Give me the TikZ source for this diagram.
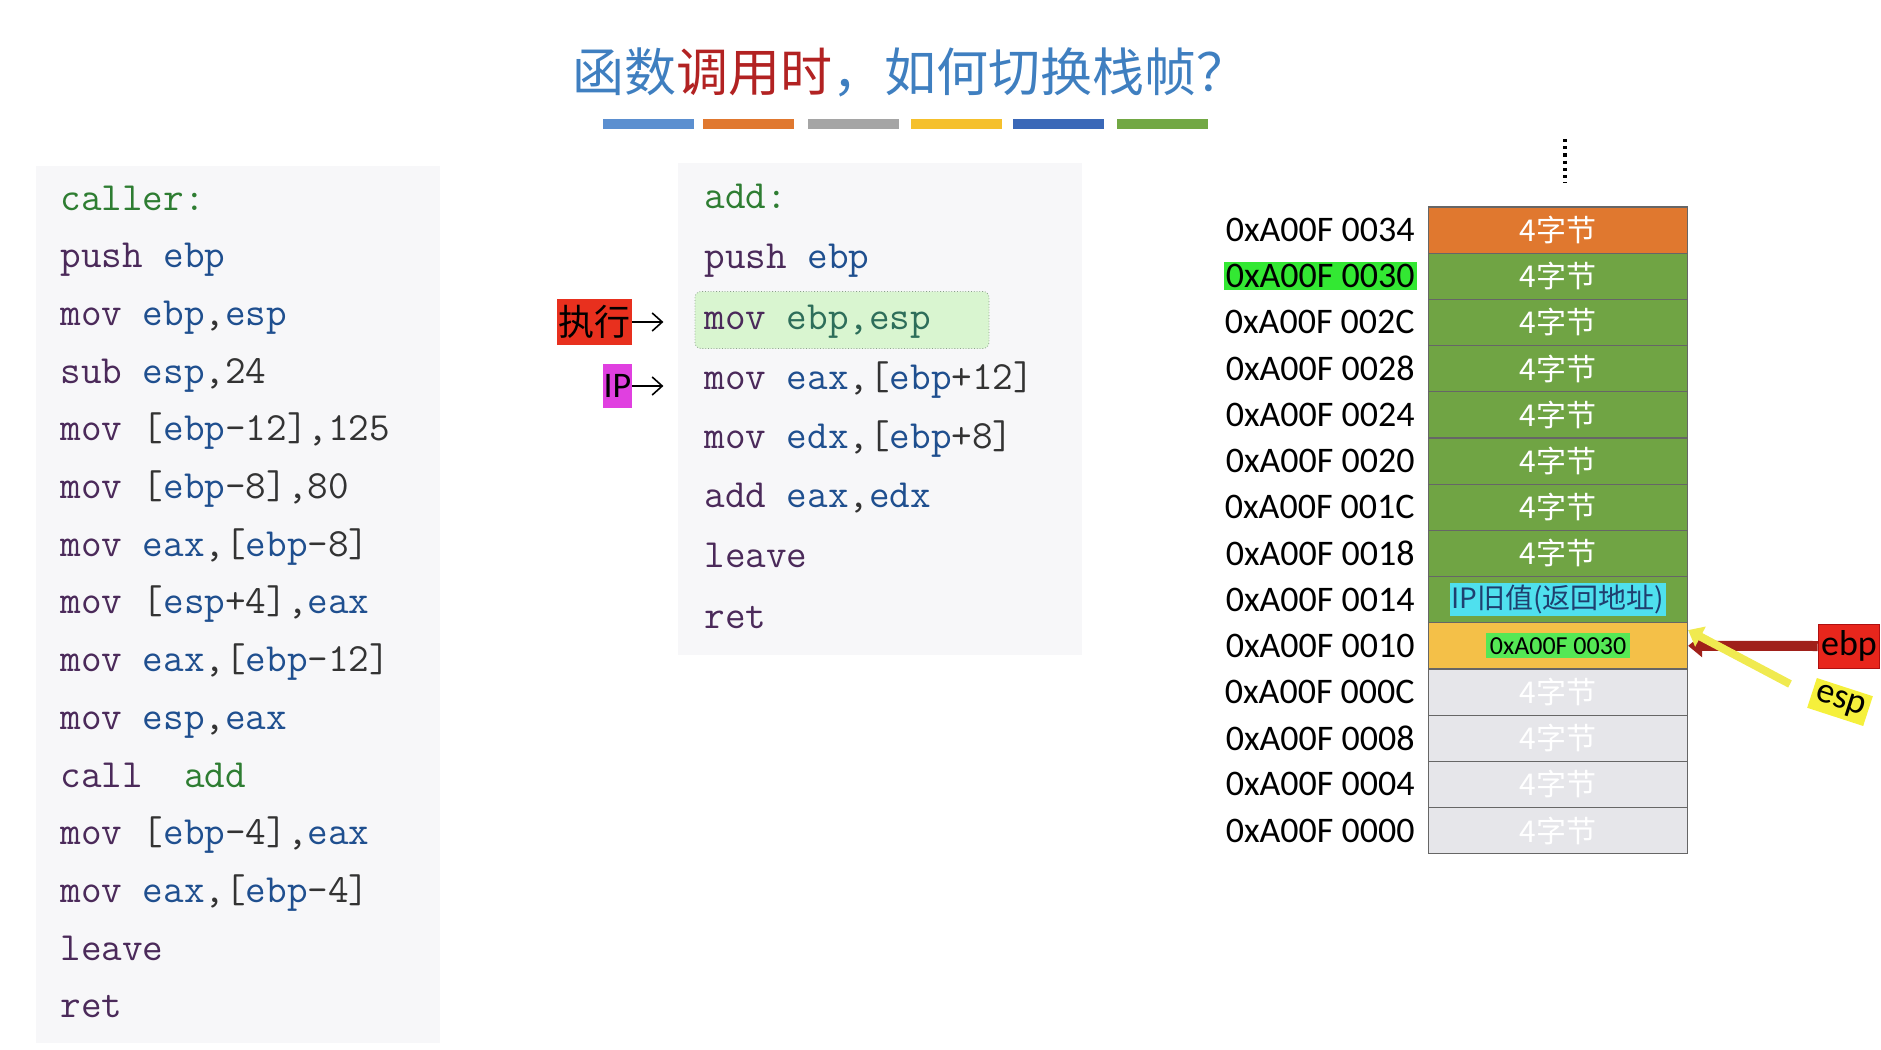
\documentclass[tikz,border=0pt]{standalone}
\usepackage{fontspec}
\newfontfamily\cjk{Noto Sans CJK SC}
\newfontfamily\carl{Carlito}
\usetikzlibrary{arrows.meta}
\definecolor{mnc}{HTML}{4B2A5A}
\definecolor{rgc}{HTML}{1F4F8F}
\definecolor{lbc}{HTML}{2E7D32}
\definecolor{numc}{HTML}{333333}
\definecolor{ttlb}{HTML}{3F7FC0}
\definecolor{ttlr}{HTML}{B22222}
\definecolor{cor}{HTML}{E0782F}
\definecolor{cgr}{HTML}{70A444}
\definecolor{cgo}{HTML}{F4C048}
\definecolor{cgy}{HTML}{E6E6EA}
\definecolor{b1}{HTML}{5B8FD0}
\definecolor{b2}{HTML}{E0782F}
\definecolor{b3}{HTML}{A5A5A5}
\definecolor{b4}{HTML}{F5C02C}
\definecolor{b5}{HTML}{3A68B8}
\definecolor{b6}{HTML}{72A844}
\definecolor{panel}{HTML}{F7F7F9}
\definecolor{hlb}{HTML}{8AA08A}
\definecolor{hlf}{HTML}{D9F5D0}
\definecolor{exef}{HTML}{E8301E}
\definecolor{ipf}{HTML}{E040E0}
\definecolor{brgreen}{HTML}{33E833}
\definecolor{cyanf}{HTML}{4FE0EE}
\definecolor{cyant}{HTML}{1F3F6F}
\definecolor{lgreen}{HTML}{55E855}
\definecolor{ebpf}{HTML}{E8261C}
\definecolor{ebpd}{HTML}{B01010}
\definecolor{espf}{HTML}{F5F03C}
\definecolor{darr}{HTML}{A0201A}
\definecolor{yarr}{HTML}{F0EA50}
\definecolor{teal}{HTML}{2E6E5A}
\newcommand{\mn}[1]{\textcolor{mnc}{#1}}
\newcommand{\rg}[1]{\textcolor{rgc}{#1}}
\newcommand{\lb}[1]{\textcolor{lbc}{#1}}
\newcommand{\ipold}{{\fontsize{14}{16}\selectfont\setlength{\fboxsep}{1pt}\colorbox{cyanf}{\textcolor{cyant}{IP旧值(返回地址)}}}}
\newcommand{\oldebp}{{\carl\fontsize{13}{15}\selectfont\setlength{\fboxsep}{2pt}\colorbox{lgreen}{\textcolor{black}{0xA00F 0030}}}}
\tikzset{
 code/.style={anchor=base west,inner sep=0pt,font=\ttfamily\fontsize{20}{24}\selectfont,text=numc},
 addr/.style={anchor=east,inner sep=1pt,font=\carl\fontsize{18}{20}\selectfont},
 cell/.style={draw=black!60,line width=0.6pt,minimum width=129.5pt,minimum height=23.1pt,inner sep=0pt,text=white,font=\cjk\fontsize{15}{18}\selectfont},
}
\begin{document}
\begin{tikzpicture}[x=0.5pt,y=-0.5pt]
\useasboundingbox (0,0) rectangle (1881,1050);
% title
\node (title) at (910,72) {\cjk\fontsize{26}{30}\selectfont\textcolor{ttlb}{函数}\textcolor{ttlr}{调用时}\textcolor{ttlb}{，如何切换栈帧？}};
\foreach \x/\c in {603/b1,703/b2,808/b3,911/b4,1013/b5,1117/b6}
  \fill[fill=\c] (\x,119) rectangle ++(91,10);
% left panel
\fill[fill=panel] (36,166) rectangle (440,1043);
\foreach \t [count=\i from 0] in {
 {\lb{caller:}},{\mn{push} \rg{ebp}},{\mn{mov} \rg{ebp},\rg{esp}},{\mn{sub} \rg{esp},24},
 {\mn{mov} [\rg{ebp}-12],125},{\mn{mov} [\rg{ebp}-8],80},{\mn{mov} \rg{eax},[\rg{ebp}-8]},
 {\mn{mov} [\rg{esp}+4],\rg{eax}},{\mn{mov} \rg{eax},[\rg{ebp}-12]},{\mn{mov} \rg{esp},\rg{eax}},
 {\mn{call}\ \ \lb{add}},{\mn{mov} [\rg{ebp}-4],\rg{eax}},{\mn{mov} \rg{eax},[\rg{ebp}-4]},
 {\mn{leave}},{\mn{ret}}}
  \node[code] (c\i) at (60,{210+57.7*\i}) {\t};
% middle panel
\fill[fill=panel] (678,163) rectangle (1082,655);
\node[draw=hlb,densely dotted,fill=hlf,rounded corners=3pt,minimum width=147pt,minimum height=28.5pt] (hl) at (842,320) {};
\foreach \t/\y [count=\i from 0] in {
 {\lb{add:}}/199,{\mn{push} \rg{ebp}}/259,{\mn{mov} \textcolor{teal}{ebp,esp}}/320,{\mn{mov} \rg{eax},[\rg{ebp}+12]}/380,
 {\mn{mov} \rg{edx},[\rg{ebp}+8]}/439,{\mn{add} \rg{eax},\rg{edx}}/498,{\mn{leave}}/558,{\mn{ret}}/619}
  \node[code] (m\i) at (704,\y+9) {\t};
\node[fill=exef,minimum width=37.5pt,minimum height=23pt,inner sep=0pt,font=\cjk\fontsize{18}{20}\selectfont] (exe) at (594.5,322) {执行};
\node[fill=ipf,minimum width=14.5pt,minimum height=22pt,inner sep=0pt,font=\carl\fontsize{18}{20}\selectfont] (ip) at (617.5,386) {IP};
\draw[-{Straight Barb[length=5pt,width=9pt]},line width=0.8pt] (exe.east) -- ++(31,0) coordinate (ea);
\draw[-{Straight Barb[length=5pt,width=9pt]},line width=0.8pt] (ip.east) -- ++(31,0) coordinate (ia);
% stack
\foreach \a/\col/\txt/\af [count=\i from 0] in {
 0034/cor/4字节/none,0030/cgr/4字节/brgreen,002C/cgr/4字节/none,0028/cgr/4字节/none,0024/cgr/4字节/none,0020/cgr/4字节/none,001C/cgr/4字节/none,0018/cgr/4字节/none,
 0014/cgr/\ipold/none,0010/cgo/\oldebp/none,000C/cgy/4字节/none,0008/cgy/4字节/none,0004/cgy/4字节/none,0000/cgy/4字节/none} {
  \node[cell,fill=\col] (s\i) at (1558,{230+46.2*\i}) {\txt};
  \node[addr,fill=\af] (a\i) at (1417,{230+46.2*\i}) {0xA00F \a};
}
\draw[line width=1.6pt,dotted] (1565,139) -- (1565,183);
% ebp/esp
\node[fill=ebpf,draw=ebpd,minimum height=22pt,inner sep=1.5pt,font=\carl\fontsize{18}{20}\selectfont] (ebp) at (1849,646) {ebp};
\node[fill=espf,rotate=-18,inner sep=2pt,font=\carl\fontsize{18}{20}\selectfont] (esp) at (1840,702) {esp};
\coordinate (ytail) at (1790,684);
\draw[{Triangle[length=7pt,width=11pt]}-,line width=5pt,draw=darr] (s9.east) -- (ebp.west);
\draw[{Triangle[length=7pt,width=11pt]}-,line width=4pt,draw=yarr] ([yshift=-4pt]s9.north east) -- (ytail);
\end{tikzpicture}
\end{document}
